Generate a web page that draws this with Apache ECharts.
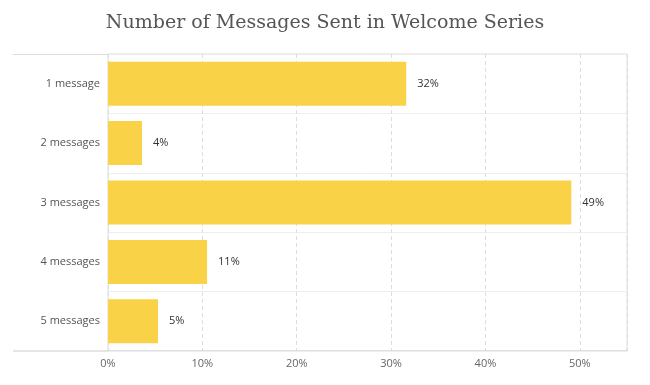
<!DOCTYPE html>
<html><head><meta charset="utf-8">
<script src="https://cdn.jsdelivr.net/npm/echarts@6/dist/echarts.min.js"></script>
<style>html,body{margin:0;padding:0;background:#fff}#c{width:650px;height:385px}</style>
</head><body><div id="c"></div>
<script>
const categories = ['1 message','2 messages','3 messages','4 messages','5 messages'];
const values = [31.6, 3.6, 49.1, 10.5, 5.3];
const valueLabels = ['32%','4%','49%','11%','5%'];
const xTicks = [0,10,20,30,40,50];

const chart = echarts.init(document.getElementById('c'));
chart.setOption({
  animation:false,
  title:{text:'Number of Messages Sent in Welcome Series',left:'center',top:9,
    textStyle:{fontFamily:'DejaVu Serif',fontSize:19,fontWeight:'normal',color:'#555'}},
  grid:{left:108,right:23,top:54,bottom:34,show:true,borderColor:'#ddd',borderWidth:1},
  xAxis:{type:'value',min:0,max:55,interval:10,
    axisLine:{show:false},axisTick:{show:false},
    axisLabel:{showMaxLabel:false,formatter:v=>xTicks.includes(v)?v+'%':'',color:'#666',fontFamily:'Open Sans',fontSize:11,margin:7},
    splitLine:{lineStyle:{color:'#ddd',type:[4,3]}}},
  yAxis:{type:'category',data:categories,inverse:true,
    axisLine:{show:false},axisTick:{show:false},
    axisLabel:{color:'#555',fontFamily:'Open Sans',fontSize:11,margin:8},
    splitLine:{show:true,lineStyle:{color:'#eee'}}},
  graphic:[
    {type:'line',shape:{x1:13,y1:54.5,x2:108,y2:54.5},style:{stroke:'#ddd',lineWidth:1}},
    {type:'line',shape:{x1:13,y1:351,x2:627,y2:351},style:{stroke:'#ccc',lineWidth:1}}
  ],
  series:[{type:'bar',data:values,barCategoryGap:'26%',
    itemStyle:{color:'#F9D247'},
    label:{show:true,position:'right',distance:11,color:'#333',fontFamily:'Open Sans',fontSize:11,
      formatter:p=>valueLabels[p.dataIndex]}}]
});
</script></body></html>
